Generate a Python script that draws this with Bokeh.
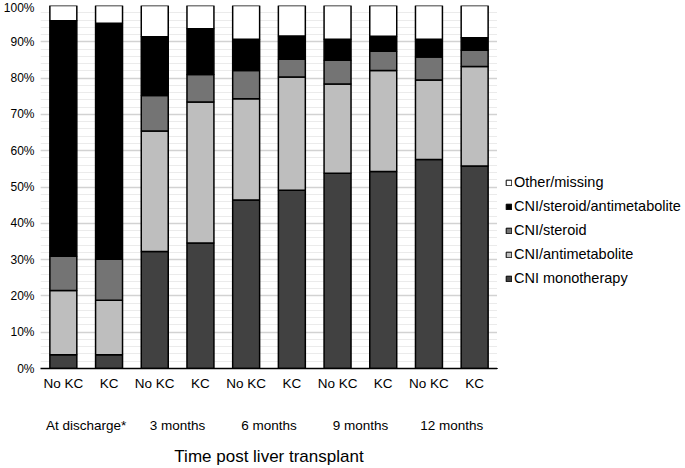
from bokeh.plotting import figure
from bokeh.layouts import row
from bokeh.models import (ColumnDataSource, FactorRange, Range1d, CategoricalAxis, CustomJSTickFormatter,
                          SingleIntervalTicker, PrintfTickFormatter, Legend, LegendItem)
from bokeh.embed import file_html
from bokeh.resources import INLINE

groups = ["At discharge*", "3 months", "6 months", "9 months", "12 months"]
subgroups = ["No KC", "KC"]

# percentage of patients per regimen (each bar sums to 100)
cni_mono = [3.8, 3.8, 32.2, 34.6, 46.4, 49.1, 53.8, 54.3, 57.6, 55.8]
cni_antimetabolite = [17.7, 15.0, 33.2, 38.8, 27.9, 31.2, 24.6, 27.8, 21.9, 27.4]
cni_steroid = [9.4, 11.3, 9.8, 7.6, 7.8, 4.9, 6.5, 5.3, 6.3, 4.5]
cni_steroid_antimetabolite = [64.9, 65.0, 16.2, 12.6, 8.6, 6.4, 5.8, 4.1, 4.9, 3.4]
other_missing = [4.2, 4.9, 8.6, 6.4, 9.3, 8.4, 9.3, 8.5, 9.3, 8.9]

series_names = ["CNI monotherapy", "CNI/antimetabolite", "CNI/steroid",
                "CNI/steroid/antimetabolite", "Other/missing"]
series_colors = ["#414141", "#bebebe", "#747474", "#000000", "#ffffff"]

factors = [f"{g}|{s}" for g in groups for s in subgroups]
keys = ["mono", "anti", "ster", "triple", "other"]
src = ColumnDataSource(dict(x=factors, mono=cni_mono, anti=cni_antimetabolite,
                            ster=cni_steroid, triple=cni_steroid_antimetabolite,
                            other=other_missing))

FONT = "Liberation Sans"

p = figure(x_range=FactorRange(*factors, range_padding=0), y_range=Range1d(0, 100),
           width=497, height=468, output_backend="svg", toolbar_location=None,
           min_border_left=0, min_border_top=5, min_border_bottom=0, min_border_right=0)
p.outline_line_color = None

rs = p.vbar_stack(keys, x="x", width=0.59, source=src, fill_color=series_colors,
                  line_color="black", line_width=1.5)

# y axis
p.yaxis.ticker = SingleIntervalTicker(interval=10, num_minor_ticks=5)
p.yaxis.formatter = PrintfTickFormatter(format="%d%%")
p.yaxis.axis_line_color = None
p.yaxis.major_tick_line_color = None
p.yaxis.minor_tick_line_color = None
p.yaxis.major_tick_out = 0
p.yaxis.minor_tick_out = 0
p.yaxis.major_label_standoff = 6
p.yaxis.major_label_text_font = FONT
p.yaxis.major_label_text_font_size = "12px"
p.yaxis.major_label_text_color = "black"

p.ygrid.grid_line_color = "#d2d2d2"
p.ygrid.grid_line_width = 1.5
p.ygrid.minor_grid_line_color = "#ebebeb"
p.ygrid.minor_grid_line_width = 1
p.xgrid.grid_line_color = None

# x axis (subgroup labels)
p.xaxis.formatter = CustomJSTickFormatter(code="return String(tick).split('|')[1];")
p.xaxis.axis_line_color = "black"
p.xaxis.axis_line_width = 1.5
p.xaxis.major_tick_line_color = None
p.xaxis.minor_tick_line_color = None
p.xaxis.major_tick_out = 0
p.xaxis.major_label_standoff = 7
p.xaxis.major_label_text_font = FONT
p.xaxis.major_label_text_font_size = "13.5px"
p.xaxis.major_label_text_color = "black"

# group labels axis
p.extra_x_ranges = {"grp": FactorRange(*groups, range_padding=0)}
gax = CategoricalAxis(x_range_name="grp")
gax.axis_line_color = None
gax.major_tick_line_color = None
gax.minor_tick_line_color = None
gax.major_tick_out = 0
gax.major_label_standoff = 24
gax.major_label_text_font = FONT
gax.major_label_text_font_size = "13.5px"
gax.major_label_text_color = "black"
gax.axis_label = "Time post liver transplant"
gax.axis_label_text_font = FONT
gax.axis_label_text_font_size = "17px"
gax.axis_label_text_font_style = "normal"
gax.axis_label_text_color = "black"
gax.axis_label_standoff = 11
p.add_layout(gax, "below")

# legend panel (swatch renderers sit outside the visible range of this panel)
p2 = figure(width=188, height=468, output_backend="svg", toolbar_location=None,
            x_range=Range1d(0, 1), y_range=Range1d(0, 1),
            x_axis_location=None, y_axis_location=None, min_border=0)
p2.outline_line_color = None
p2.grid.grid_line_color = None
leg_src = ColumnDataSource(dict(x=[-10], **{k: [0] for k in keys}))
rs2 = p2.vbar_stack(keys, x="x", width=0.5, source=leg_src, fill_color=series_colors,
                    line_color="black", line_width=1)
items = [LegendItem(label=series_names[i], renderers=[rs2[i]]) for i in reversed(range(len(rs2)))]
legend = Legend(items=items, location=(8, 80), glyph_width=7, glyph_height=7,
                label_standoff=2, label_height=20, spacing=4, padding=0, margin=0,
                border_line_color=None, background_fill_alpha=0,
                label_text_font=FONT, label_text_font_size="14.5px", label_text_color="black")
p2.add_layout(legend)

open("out.html", "w").write(file_html(row(p, p2), INLINE))
